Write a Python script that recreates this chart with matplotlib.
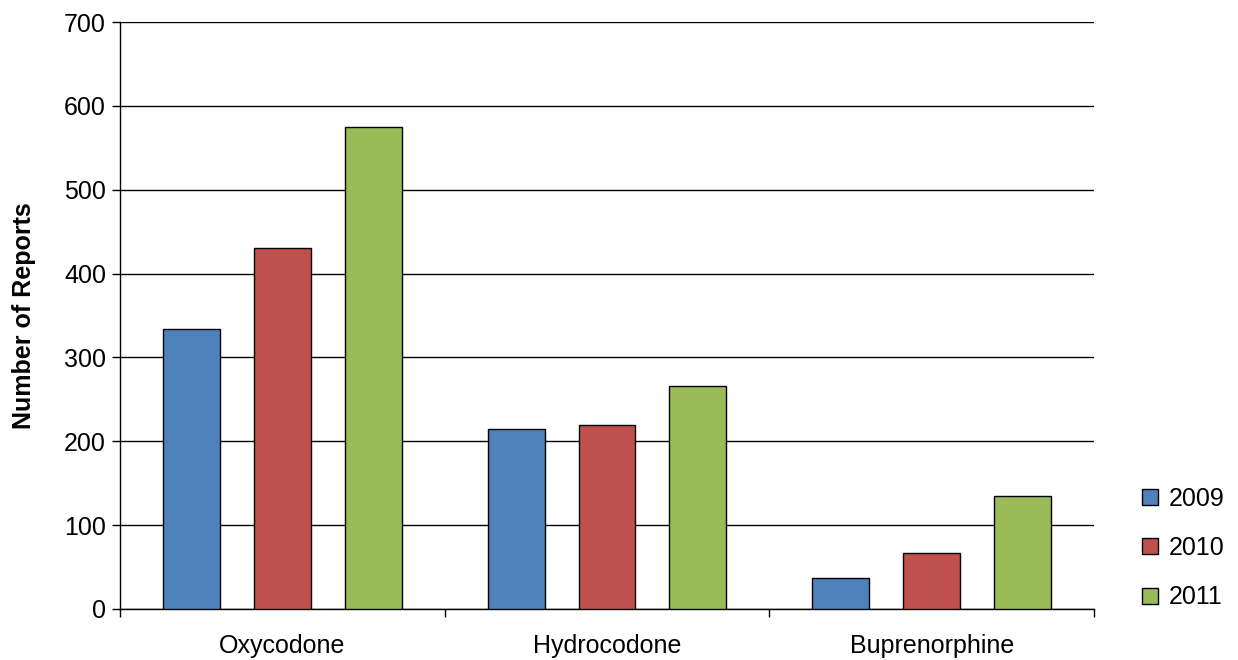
import matplotlib.pyplot as plt
import numpy as np
from matplotlib.patches import Patch

plt.rcParams["font.family"] = ["Liberation Sans", "DejaVu Sans"]

drugs = ["Oxycodone", "Hydrocodone", "Buprenorphine"]
years = ["2009", "2010", "2011"]
reports_2009 = [334, 215, 37]
reports_2010 = [431, 219, 67]
reports_2011 = [575, 266, 135]
colors = ["#4F81BD", "#C0504D", "#9BBB59"]

fig = plt.figure(figsize=(12.38, 6.6), dpi=100)
ax = fig.add_axes([120 / 1238, 51 / 660, 974 / 1238, 587 / 660])

centers = np.arange(len(drugs)) + 0.5
width = 0.175
offsets = [-0.28, 0.0, 0.28]
for vals, off, col in zip([reports_2009, reports_2010, reports_2011], offsets, colors):
    ax.bar(centers + off, vals, width, color=col, edgecolor="black", linewidth=1, zorder=3)

ax.set_xlim(0, 3)
ax.set_ylim(0, 700)
ax.set_yticks(np.arange(0, 701, 100))
ax.yaxis.grid(True, color="black", linewidth=1, zorder=0)
ax.set_xticks(centers)
ax.set_xticklabels(drugs)
ax.set_xticks([0, 1, 2, 3], minor=True)
ax.tick_params(axis="x", which="major", length=0, pad=18, labelsize=18)
ax.tick_params(axis="x", which="minor", length=6, width=1, direction="out")
ax.tick_params(axis="y", length=6, width=1, direction="out", labelsize=18, pad=4)

for side in ["top", "right"]:
    ax.spines[side].set_visible(False)
ax.spines["left"].set_linewidth(1)
ax.spines["bottom"].set_linewidth(1)

ax.set_ylabel("Number of Reports", fontsize=18, fontweight="bold", labelpad=20)

handles = [Patch(facecolor=c, edgecolor="black", linewidth=1) for c in colors]
fig.legend(handles, years, loc="center left", bbox_to_anchor=(1142 / 1238, 1 - 548 / 660),
           frameon=False, fontsize=18, borderpad=0, borderaxespad=0,
           handlelength=0.62, handleheight=0.62,
           handletextpad=0.45, labelspacing=1.02)

fig.savefig("out.png", dpi=100)
